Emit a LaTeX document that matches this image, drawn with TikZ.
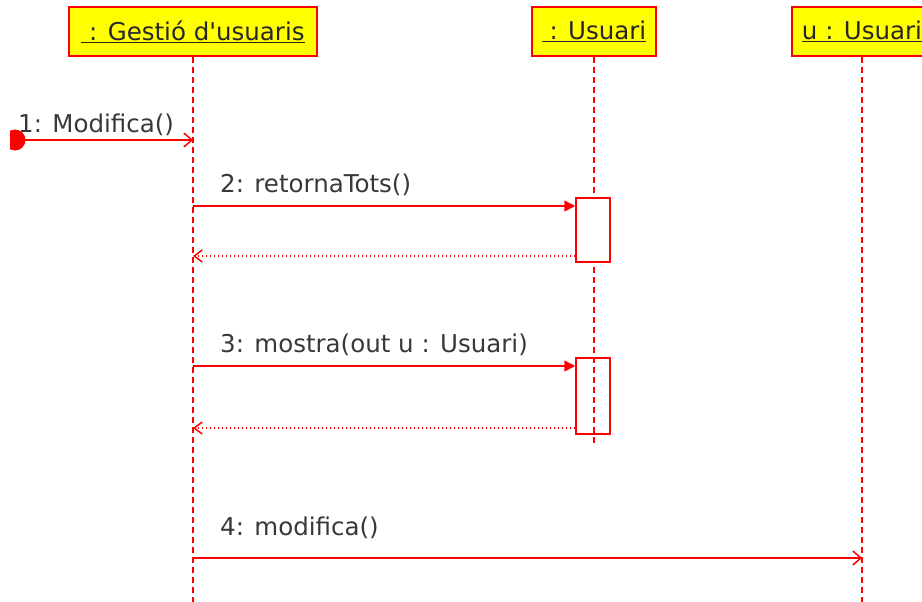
\documentclass[tikz,border=0pt]{standalone}
\usepackage{fontspec}
\setmainfont{DejaVu Sans}
\usetikzlibrary{arrows.meta}
\definecolor{umlred}{RGB}{255,0,0}
\definecolor{umlyellow}{RGB}{255,255,0}
\definecolor{labelgray}{RGB}{55,55,60}
\begin{document}
\begin{tikzpicture}[x=1pt,y=-1pt,
  objbox/.style={draw=umlred, line width=1.5pt, fill=umlyellow, minimum height=49pt,
    inner sep=0pt, font=\fontsize{24.5}{28}\selectfont, text=black!85},
  lifeline/.style={draw=umlred, line width=1.5pt, dash pattern=on 6pt off 4pt},
  actbox/.style={draw=umlred, line width=1.5pt, minimum width=34pt, inner sep=0pt},
  callmsg/.style={draw=umlred, line width=1.5pt, -{Triangle[length=11pt,width=11pt]}},
  asyncmsg/.style={draw=umlred, line width=1.5pt, -{Straight Barb[length=8pt,width=14pt]}},
  retmsg/.style={draw=umlred, line width=1.5pt, dash pattern=on 1.5pt off 2.5pt,
    -{Straight Barb[length=8pt,width=12pt]}},
  msglabel/.style={anchor=base west, inner sep=0pt,
    font=\fontsize{24.5}{28}\selectfont, text=labelgray}]

\useasboundingbox (0,0) rectangle (922,602);
\clip (0,0) rectangle (922,602);

% lifeline ends
\coordinate (gestEnd) at (193,602);
\coordinate (usuEnd)  at (594,445);
\coordinate (uEnd)    at (862,602);

% object heads
\node[objbox, minimum width=248pt] (gest) at (193,31.5) {\underline{\ : Gestió d\textquotesingle usuaris}};
\node[objbox, minimum width=124pt] (usu)  at (594,31.5)   {\underline{\ : Usuari}};
\node[objbox, minimum width=140pt] (uobj) at (862,31.5)   {\underline{u : Usuari}};

% lifelines
\draw[lifeline] (gest.south) -- (gestEnd);
\draw[lifeline] (usu.south)  -- (usuEnd);
\draw[lifeline] (uobj.south) -- (uEnd);

% activations on : Usuari
\node[actbox, fill=white, minimum height=64pt] (act1) at (593,230) {};
\node[actbox, minimum height=76pt] (act2) at (593,396) {};

% message rows
\coordinate (m1) at (15,140);
\coordinate (m2) at (0,206);
\coordinate (r2) at (0,256);
\coordinate (m3) at (0,366);
\coordinate (r3) at (0,428);
\coordinate (m4) at (0,558);

% 1: found message, its start dot cut flat on the left
\begin{scope}
  \clip (10,120) rectangle (40,160);
  \fill[umlred] (m1) circle (10.5);
\end{scope}
\draw[asyncmsg] (m1) -- (gest.south |- m1);
\node[msglabel] (l1) at (18,132) {1: Modifica()};

% 2: retornaTots
\draw[callmsg] (gest.south |- m2) -- (act1.west |- m2);
\draw[retmsg] (act1.west |- r2) -- (gest.south |- r2);
\node[msglabel] (l2) at (220,192) {2: retornaTots()};

% 3: mostra
\draw[callmsg] (gest.south |- m3) -- (act2.west |- m3);
\draw[retmsg] (act2.west |- r3) -- (gest.south |- r3);
\node[msglabel] (l3) at (220,352) {3: mostra(out u : Usuari)};

% 4: modifica
\draw[asyncmsg] (gest.south |- m4) -- (uobj.south |- m4);
\node[msglabel] (l4) at (220,535) {4: modifica()};
\end{tikzpicture}
\end{document}
